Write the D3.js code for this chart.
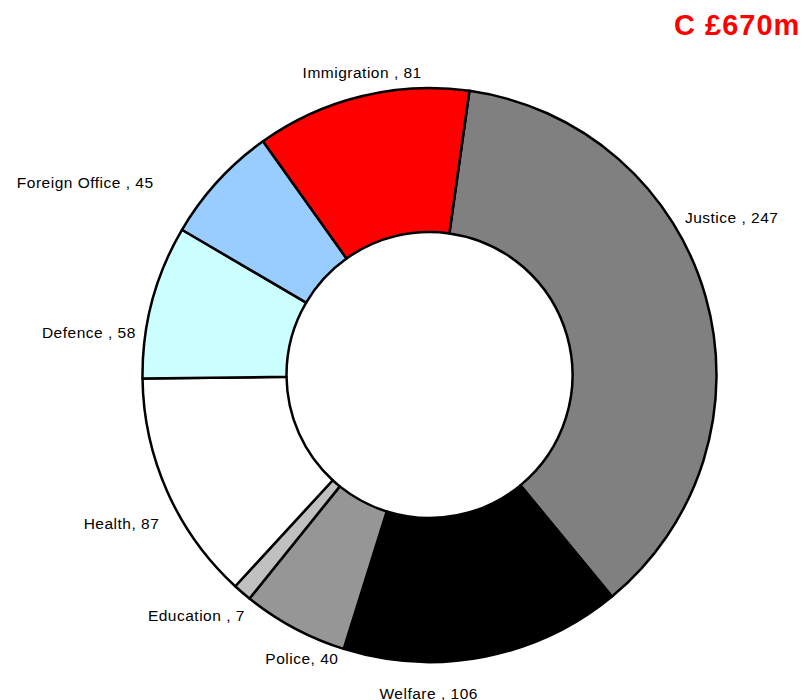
<!DOCTYPE html>
<html>
<head>
<meta charset="utf-8">
<script src="https://cdn.jsdelivr.net/npm/d3@7"></script>
<style>
  html, body { margin: 0; padding: 0; background: #fff; }
  svg { display: block; }
  text { font-family: "Liberation Sans", Arial, sans-serif; }
</style>
</head>
<body>
<svg id="chart" width="804" height="700"></svg>
<script>
// ---- data ----
const categories = ["Justice", "Welfare", "Police", "Education", "Health", "Defence", "Foreign Office", "Immigration"];
const values     = [247, 106, 40, 7, 87, 58, 45, 81];
const labelTexts = ["Justice , 247", "Welfare , 106", "Police, 40", "Education , 7", "Health, 87", "Defence , 58", "Foreign Office , 45", "Immigration , 81"];
const titleText  = "C £670m";

// ---- styling / layout ----
const colors = ["#808080", "#000000", "#969696", "#c0c0c0", "#ffffff", "#ccffff", "#99ccff", "#ff0000"];
// manual label nudges (px) from the default outside-label position
const labelNudge = [[-42, -68], [-60, 21], [18, 16], [17, 12], [12, 28], [5, 42], [-48, 22], [6, 3]];

const W = 804, H = 700;
const cx = 429.5, cy = 375, R = 287, r = 143;
const startAngle = 8 * Math.PI / 180;

const svg = d3.select("#chart");

const pie = d3.pie()
  .sort(null)
  .value(d => d.value)
  .startAngle(startAngle)
  .endAngle(startAngle + 2 * Math.PI);

const data = categories.map((c, i) => ({ name: c, value: values[i], label: labelTexts[i], color: colors[i], nudge: labelNudge[i] }));
const arcs = pie(data);

const arc = d3.arc().innerRadius(r).outerRadius(R);

const g = svg.append("g").attr("transform", `translate(${cx},${cy})`);

g.selectAll("path.slice")
  .data(arcs)
  .join("path")
  .attr("class", "slice")
  .attr("d", arc)
  .attr("fill", d => d.data.color)
  .attr("stroke", "#000")
  .attr("stroke-width", 2.5)
  .attr("stroke-linejoin", "round");

const Rl = R + 22;
g.selectAll("text.lbl")
  .data(arcs)
  .join("text")
  .attr("class", "lbl")
  .each(function(d) {
    const mid = (d.startAngle + d.endAngle) / 2;
    const sx = Math.sin(mid), sy = -Math.cos(mid);
    const anchor = Math.abs(sx) < 0.5 ? "middle" : (sx > 0 ? "start" : "end");
    d3.select(this)
      .attr("x", sx * Rl + d.data.nudge[0])
      .attr("y", sy * Rl + d.data.nudge[1])
      .attr("text-anchor", anchor);
  })
  .attr("font-size", "15.5px")
  .attr("letter-spacing", "0.5px")
  .attr("fill", "#000")
  .text(d => d.data.label);

svg.append("text")
  .attr("x", 674)
  .attr("y", 35)
  .attr("font-size", "29px")
  .attr("font-weight", "bold")
  .attr("letter-spacing", "1px")
  .attr("fill", "#ff0000")
  .text(titleText);
</script>
</body>
</html>
